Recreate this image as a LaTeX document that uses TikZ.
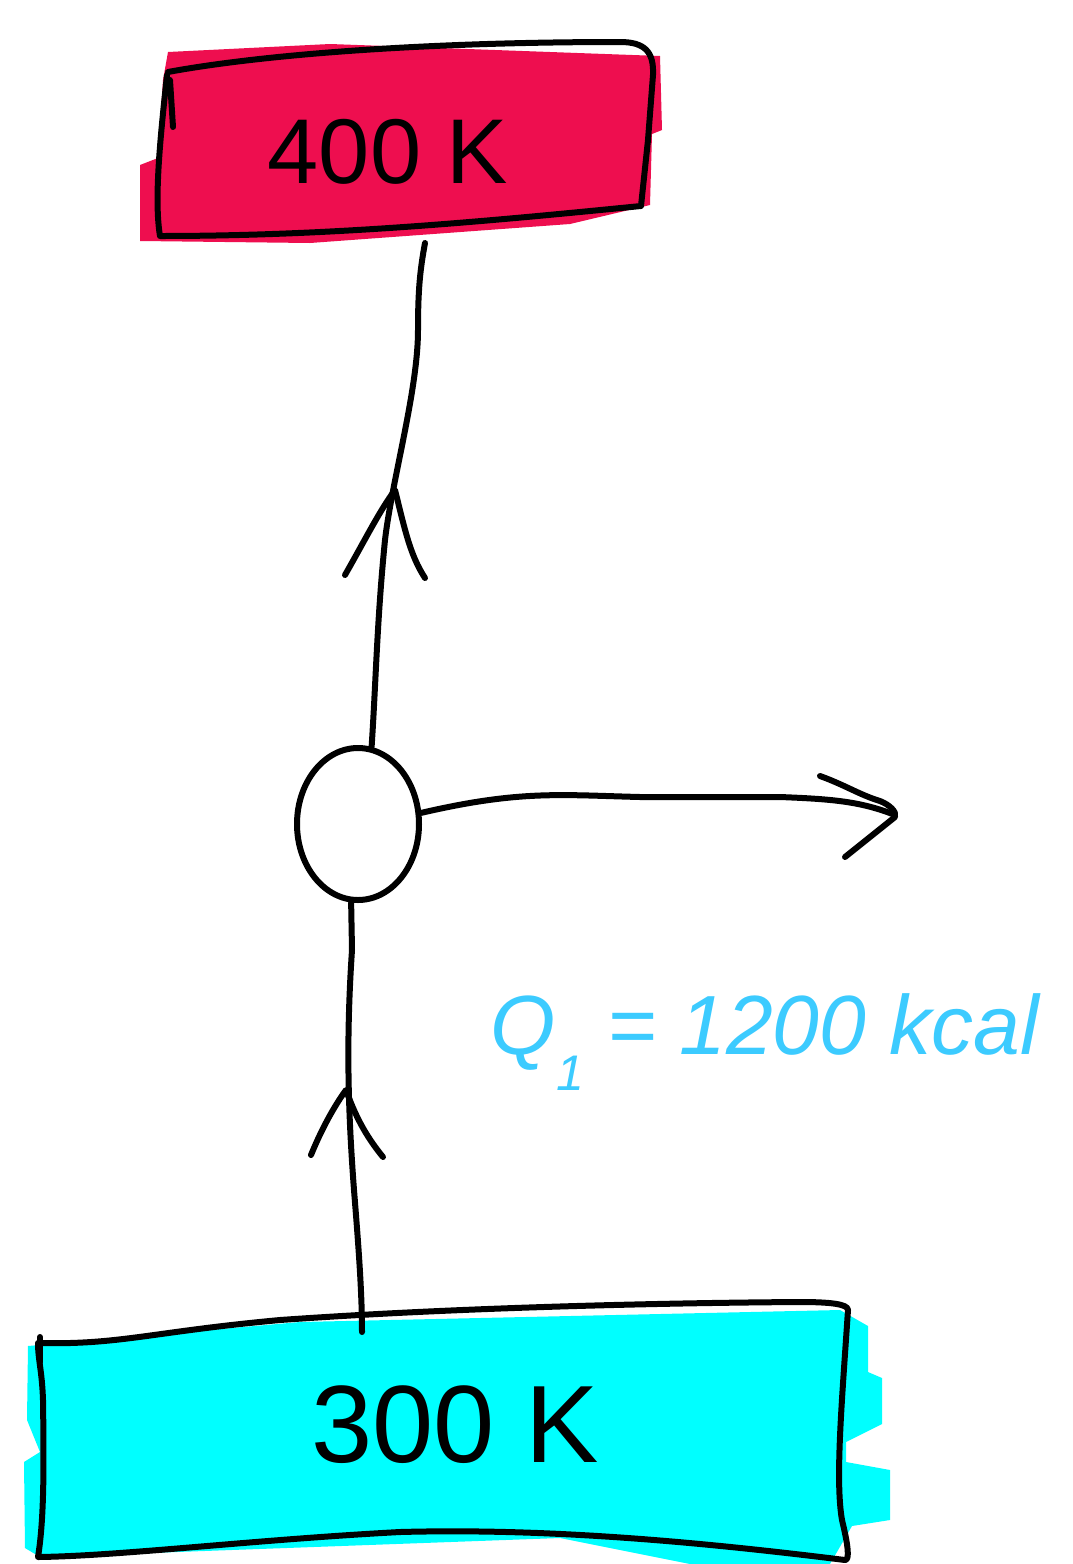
\documentclass[tikz,border=0pt]{standalone}
\usepackage{fontspec}
\setmainfont{Liberation Sans}
\usetikzlibrary{shapes.geometric}
\definecolor{hotred}{HTML}{EE0E4F}
\definecolor{coldcyan}{HTML}{00FFFF}
\definecolor{qblue}{HTML}{3CCBFF}
\tikzset{
  ink/.style={line width=6pt, line cap=round, line join=round, black},
  boxtext/.style={inner sep=0pt, font=\fontsize{92}{92}\selectfont},
  engine/.style={ellipse, draw, line width=6pt, minimum width=122pt, minimum height=152pt, inner sep=0pt},
  qtext/.style={inner sep=0pt, text=qblue, font=\fontsize{84}{84}\selectfont\itshape}
}
\begin{document}
\begin{tikzpicture}[x=1pt,y=-1pt]
\useasboundingbox (0,0) rectangle (1072,1564);
\fill[white] (0,0) rectangle (1072,1564);
% scribbled fills
\fill[hotred] (168,52) -- (330,44) -- (660,56) -- (662,130) -- (652,134) -- (650,205) -- (570,224) -- (310,243) -- (140,241) -- (140,165) -- (158,158) -- (163,80) -- cycle;
\fill[coldcyan] (28,1346) -- (300,1322) -- (840,1310) -- (868,1326) -- (868,1372) -- (882,1378) -- (882,1424) -- (846,1442) -- (846,1462) -- (890,1470) -- (890,1520) -- (852,1526) -- (830,1564) -- (690,1564) -- (560,1538) -- (40,1557) -- (25,1548) -- (24,1462) -- (40,1452) -- (27,1420) -- cycle;
% hand-drawn box outlines
\draw[ink] (168,72) .. controls (260,55) and (420,42) .. (620,42) .. controls (645,42) and (654,52) .. (653,75) -- (648,140) -- (641,206) .. controls (480,222) and (330,236) .. (160,236) .. controls (154,200) and (160,140) .. (167,75);
\draw[ink] (173,127) -- (170,80);
\draw[ink] (38,1343) .. controls (120,1345) and (150,1332) .. (280,1320) .. controls (450,1308) and (650,1303) .. (800,1302) .. controls (830,1302) and (848,1304) .. (848,1310) .. controls (842,1400) and (835,1480) .. (842,1520) .. controls (848,1545) and (850,1560) .. (845,1560) .. controls (700,1542) and (550,1528) .. (400,1532) .. controls (250,1540) and (120,1556) .. (38,1557) .. controls (44,1520) and (44,1470) .. (43,1400) .. controls (42,1370) and (38,1360) .. (38,1343);
\draw[ink] (40,1337) -- (40,1362);
% nodes
\node[boxtext] (hot) at (388,152) {400 K};
\node[boxtext, font=\fontsize{110}{110}\selectfont] (cold) at (455,1425) {300 K};
\node[engine] (eng) at (358,824) {};
\coordinate (hotin) at (425,243);
\coordinate (coldout) at (362,1332);
\coordinate (out) at (895,815);
% connectors
\draw[ink] (eng.80) .. controls (376,680) and (377,620) .. (385,540) .. controls (392,480) and (418,390) .. (418,330) .. controls (418,290) and (420,270) .. (hotin);
\draw[ink] (345,575) .. controls (365,540) and (380,510) .. (395,490) .. controls (405,530) and (410,555) .. (425,578);
\draw[ink] (coldout) .. controls (362,1290) and (358,1240) .. (354,1190) .. controls (348,1110) and (346,1040) .. (352,950) -- (eng.265);
\draw[ink] (311,1155) .. controls (322,1128) and (335,1105) .. (346,1090) .. controls (355,1115) and (365,1135) .. (383,1157);
\draw[ink] (eng.10) .. controls (520,790) and (560,795) .. (640,797) -- (780,797) .. controls (830,799) and (860,801) .. (out);
\draw[ink] (820,776) .. controls (845,785) and (860,795) .. (880,801) .. controls (890,805) and (897,812) .. (895,817) -- (845,857);
% label
\node[qtext] (q) at (765,1042) {Q\raisebox{-36pt}{\fontsize{50}{50}\selectfont 1} = 1200 kcal};
\end{tikzpicture}
\end{document}
